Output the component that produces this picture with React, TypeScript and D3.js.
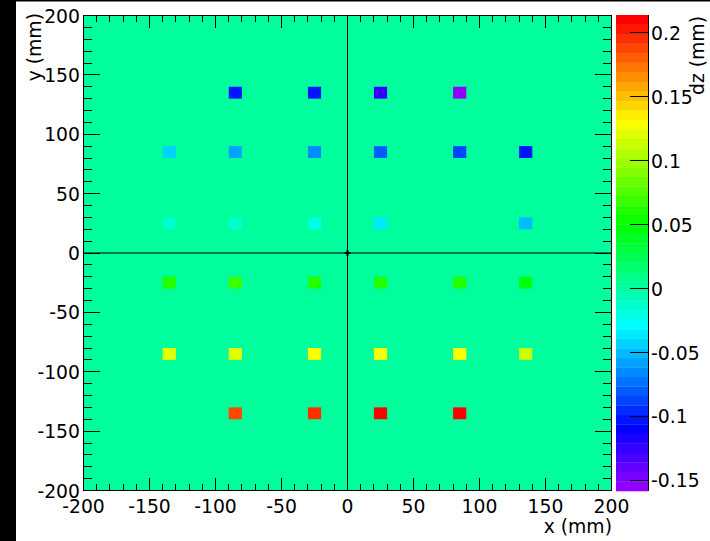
import React from 'react';
import * as d3 from 'd3';

// ---- data ----
const xCenters = [-135, -85, -25, 25, 85, 135];
const yCenters = [135, 85, 25, -25, -85, -135];
const binWidth = 10;
const rowY135: (number | null)[] = [null, -0.103, -0.103, -0.125, -0.1586, null];
const rowY85: (number | null)[] = [-0.043, -0.058, -0.066, -0.080, -0.088, -0.103];
const rowY25: (number | null)[] = [-0.014, -0.014, -0.021, -0.036, null, -0.051];
const rowYm25: (number | null)[] = [0.061, 0.068, 0.061, 0.061, 0.061, 0.046];
const rowYm85: (number | null)[] = [0.120, 0.120, 0.128, 0.128, 0.128, 0.113];
const rowYm135: (number | null)[] = [null, 0.188, 0.196, 0.2133, 0.209, null];
const rows = [rowY135, rowY85, rowY25, rowYm25, rowYm85, rowYm135];
const backgroundValue = 0;

const xTicks = [-200, -150, -100, -50, 0, 50, 100, 150, 200];
const yTicks = [-200, -150, -100, -50, 0, 50, 100, 150, 200];
const zTicks = [-0.15, -0.1, -0.05, 0, 0.05, 0.1, 0.15, 0.2];
const zTickLabels = ['-0.15', '-0.1', '-0.05', '0', '0.05', '0.1', '0.15', '0.2'];
const nContours = 50;

const W = 710;
const H = 541;
const left = 83;
const right = 612;
const top = 15;
const bottom = 491;
const cbLeft = 616;
const cbRight = 648;
const FONT = 'DejaVu Sans';
const FS = 18.8;

export default function App() {
  const xScale = d3.scaleLinear().domain([-200, 200]).range([left + 0.5, right - 0.5]);
  const yScale = d3.scaleLinear().domain([-200, 200]).range([bottom - 0.5, top + 0.5]);

  const all: number[] = [];
  rows.forEach((r) => r.forEach((v) => { if (v !== null) all.push(v); }));
  const zMin = d3.min(all) as number;
  const zMax = d3.max(all) as number;
  const zScale = d3.scaleLinear().domain([zMin, zMax]).range([bottom, top]);
  const palette = d3.range(nContours).map((i) => d3.hsl(280 - (i + 1) * (280 / nContours), 1, 0.5).formatHex());
  const colorOf = (z: number) => {
    let c = Math.floor(0.01 + ((z - zMin) * nContours) / (zMax - zMin));
    c = Math.max(0, Math.min(nContours - 1, c));
    return palette[c];
  };
  const dzStep = (zMax - zMin) / nContours;

  const minorX = d3.range(-200, 201, 10);
  const minorY = d3.range(-200, 201, 10);

  const cells: React.ReactNode[] = [];
  rows.forEach((r, ri) => {
    r.forEach((v, ci) => {
      if (v === null) return;
      const xc = xCenters[ci];
      const yc = yCenters[ri];
      const x0 = xScale(xc - binWidth / 2);
      const x1 = xScale(xc + binWidth / 2);
      const y0 = yScale(yc + binWidth / 2);
      const y1 = yScale(yc - binWidth / 2);
      cells.push(<rect key={`c${ri}-${ci}`} x={x0} y={y0} width={x1 - x0} height={y1 - y0} fill={colorOf(v)} />);
    });
  });

  const cx = xScale(0);
  const cy = yScale(0);

  return (
    <svg width={W} height={H} style={{ position: 'absolute', left: 0, top: 0, background: '#fff' }} fontFamily={FONT}>
      <rect x={0} y={0} width={W} height={H} fill="#fff" />
      <rect x={0} y={0} width={16} height={H} fill="#000" />
      <rect x={0} y={0} width={W} height={1.5} fill="#000" />

      {/* frame background (zero bins) */}
      <rect x={left} y={top} width={right - left} height={bottom - top} fill={colorOf(backgroundValue)} />
      {cells}

      {/* cross lines */}
      <line x1={cx} x2={cx} y1={top} y2={bottom} stroke="#000" strokeWidth={1} />
      <line x1={left} x2={right} y1={cy} y2={cy} stroke="#000" strokeWidth={1} />
      <line x1={cx - 3} x2={cx + 3} y1={cy} y2={cy} stroke="#000" strokeWidth={2} />
      <line x1={cx} x2={cx} y1={cy - 3} y2={cy + 3} stroke="#000" strokeWidth={2} />

      {/* ticks */}
      <g stroke="#000" strokeWidth={1} shapeRendering="crispEdges">
        {minorX.map((v) => {
          const major = v % 50 === 0;
          const len = major ? 13 : 7;
          return (
            <g key={`tx${v}`}>
              <line x1={xScale(v)} x2={xScale(v)} y1={bottom} y2={bottom - len} />
              <line x1={xScale(v)} x2={xScale(v)} y1={top} y2={top + len} />
            </g>
          );
        })}
        {minorY.map((v) => {
          const major = v % 50 === 0;
          const len = major ? 17 : 9;
          return (
            <g key={`ty${v}`}>
              <line x1={left} x2={left + len} y1={yScale(v)} y2={yScale(v)} />
              <line x1={right} x2={right - len} y1={yScale(v)} y2={yScale(v)} />
            </g>
          );
        })}
      </g>
      <rect x={left + 0.5} y={top + 0.5} width={right - left - 1} height={bottom - top - 1} fill="none" stroke="#000" strokeWidth={1} />

      {/* tick labels */}
      {xTicks.map((v) => (
        <text key={`lx${v}`} x={xScale(v)} y={512.5} fontSize={FS} textAnchor="middle" fill="#000">{v}</text>
      ))}
      {yTicks.map((v) => (
        <text key={`ly${v}`} x={80} y={yScale(v) + 7} fontSize={FS} textAnchor="end" fill="#000">{v}</text>
      ))}

      {/* axis titles */}
      <text x={right} y={533} fontSize={FS} textAnchor="end" fill="#000">x (mm)</text>
      <text transform={`translate(41,${top - 2}) rotate(-90)`} fontSize={FS} textAnchor="end" fill="#000">y (mm)</text>

      {/* colour bar */}
      {palette.map((c, j) => {
        const ya = zScale(zMin + (j + 1) * dzStep);
        const yb = zScale(zMin + j * dzStep);
        return <rect key={`cb${j}`} x={cbLeft} y={ya} width={cbRight - cbLeft} height={yb - ya + 0.3} fill={c} />;
      })}
      <line x1={cbRight + 0.5} x2={cbRight + 0.5} y1={top} y2={bottom} stroke="#000" strokeWidth={1} />
      {zTicks.map((v, i) => (
        <g key={`z${v}`}>
          <line x1={cbRight - 18} x2={cbRight} y1={Math.round(zScale(v)) + 0.5} y2={Math.round(zScale(v)) + 0.5} stroke="#000" strokeWidth={1} />
          <text x={651} y={zScale(v) + 7.5} fontSize={FS} fill="#000">{zTickLabels[i]}</text>
        </g>
      ))}
      <text transform={`translate(703.5,${top + 1}) rotate(-90)`} fontSize={FS} textAnchor="end" fill="#000">dz (mm)</text>
    </svg>
  );
}
